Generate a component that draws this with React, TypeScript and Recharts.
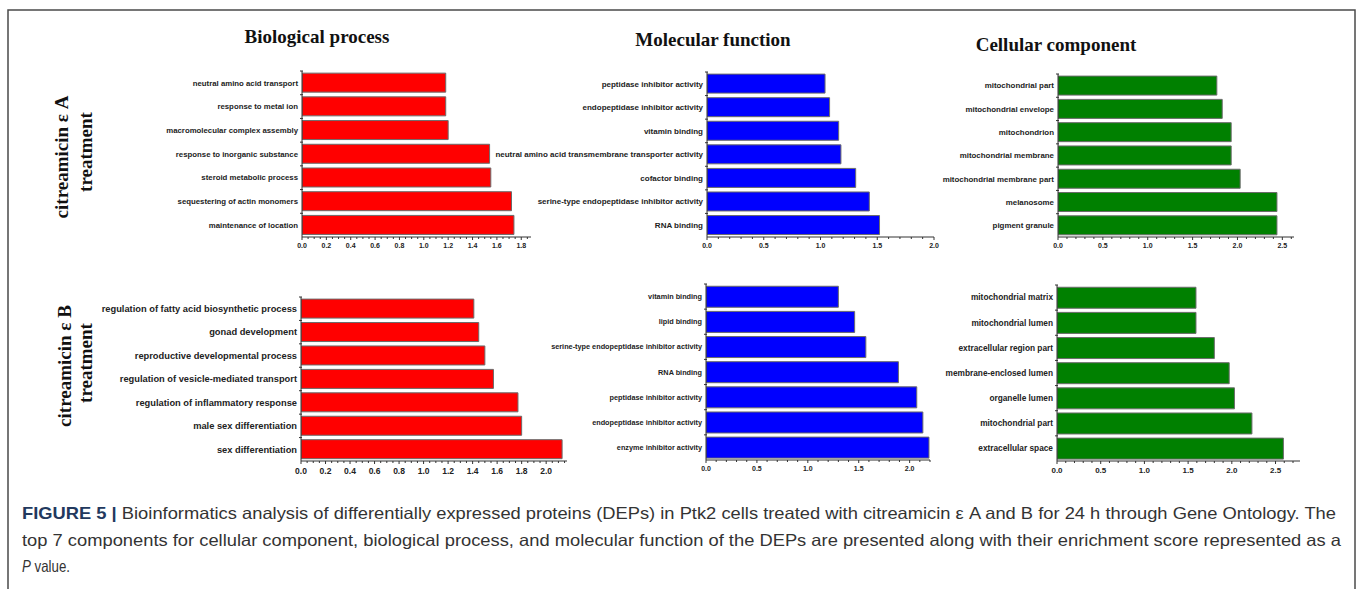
import { BarChart, Bar, XAxis, YAxis } from 'recharts'

if (typeof document !== 'undefined') document.body.style.margin = '0'

const SANS = '"Liberation Sans", Arial, sans-serif'
const NARROW = '"Liberation Sans Narrow", "Liberation Sans", Arial, sans-serif'
const SERIF = '"Liberation Serif", "Times New Roman", serif'

// citreamicin ε A
const bpACategories = [
  'neutral amino acid transport',
  'response to metal ion',
  'macromolecular complex assembly',
  'response to inorganic substance',
  'steroid metabolic process',
  'sequestering of actin monomers',
  'maintenance of location',
]
const bpAValues = [1.18, 1.18, 1.2, 1.54, 1.55, 1.72, 1.74]

const mfACategories = [
  'peptidase inhibitor activity',
  'endopeptidase inhibitor activity',
  'vitamin binding',
  'neutral amino acid transmembrane transporter activity',
  'cofactor binding',
  'serine-type endopeptidase inhibitor activity',
  'RNA binding',
]
const mfAValues = [1.04, 1.08, 1.16, 1.18, 1.31, 1.43, 1.52]

const ccACategories = [
  'mitochondrial part',
  'mitochondrial envelope',
  'mitochondrion',
  'mitochondrial membrane',
  'mitochondrial membrane part',
  'melanosome',
  'pigment granule',
]
const ccAValues = [1.77, 1.83, 1.93, 1.93, 2.03, 2.44, 2.44]

// citreamicin ε B
const bpBCategories = [
  'regulation of fatty acid biosynthetic process',
  'gonad development',
  'reproductive developmental process',
  'regulation of vesicle-mediated transport',
  'regulation of inflammatory response',
  'male sex differentiation',
  'sex differentiation',
]
const bpBValues = [1.41, 1.45, 1.5, 1.57, 1.77, 1.8, 2.13]

const mfBCategories = [
  'vitamin binding',
  'lipid binding',
  'serine-type endopeptidase inhibitor activity',
  'RNA binding',
  'peptidase inhibitor activity',
  'endopeptidase inhibitor activity',
  'enzyme inhibitor activity',
]
const mfBValues = [1.3, 1.46, 1.57, 1.89, 2.07, 2.13, 2.19]

const ccBCategories = [
  'mitochondrial matrix',
  'mitochondrial lumen',
  'extracellular region part',
  'membrane-enclosed lumen',
  'organelle lumen',
  'mitochondrial part',
  'extracellular space',
]
const ccBValues = [1.59, 1.59, 1.8, 1.97, 2.03, 2.23, 2.59]

// tick labels
const ticksTo18 = [0, 0.2, 0.4, 0.6, 0.8, 1.0, 1.2, 1.4, 1.6, 1.8]
const ticksTo20 = [0, 0.2, 0.4, 0.6, 0.8, 1.0, 1.2, 1.4, 1.6, 1.8, 2.0]
const halfTicksTo20 = [0, 0.5, 1.0, 1.5, 2.0]
const halfTicksTo25 = [0, 0.5, 1.0, 1.5, 2.0, 2.5]

interface PanelProps {
  categories: string[]
  values: number[]
  color: string
  axisX: number
  plotTop: number
  plotWidth: number
  plotHeight: number
  labelWidth: number
  max: number
  majors: number[]
  minorStep: number
  labelSize: number
  tickFont: number
}

function XTick({ x, y, payload, major, fontSize }: any) {
  return (
    <g>
      <line x1={x} x2={x} y1={y} y2={y + (major ? 3 : 2)} stroke="#333" strokeWidth={1} />
      {major && (
        <text
          x={x}
          y={y + fontSize + 4}
          textAnchor="middle"
          fontSize={fontSize}
          fontWeight="bold"
          fill="#222"
          fontFamily={SANS}
        >
          {Number(payload.value).toFixed(1)}
        </text>
      )}
    </g>
  )
}

function YTick({ x, y, payload, fontSize }: any) {
  const axisX = x + 4
  const half = payload && typeof payload.offset === 'number' ? payload.offset : 0
  return (
    <g>
      <line x1={axisX - 2} x2={axisX + 1} y1={y - half} y2={y - half} stroke="#333" strokeWidth={1} />
      <text
        x={x}
        y={y}
        dy="0.35em"
        textAnchor="end"
        fontSize={fontSize}
        fontWeight="bold"
        fill="#222"
        fontFamily={SANS}
      >
        {payload.value}
      </text>
    </g>
  )
}

function GoBarPanel(p: PanelProps) {
  const data = p.categories.map((name, i) => ({ name, value: p.values[i] }))
  // minor ticks between the labelled ones
  const allTicks: number[] = []
  for (let i = 0; i * p.minorStep <= p.max + 1e-9; i++) allTicks.push(+(i * p.minorStep).toFixed(3))
  const isMajor = (v: number) => p.majors.some((m) => Math.abs(m - v) < 1e-6)
  const pad = 4
  const padRight = 12

  return (
    <div style={{ position: 'absolute', left: p.axisX - p.labelWidth, top: p.plotTop - pad }}>
      <BarChart
        layout="vertical"
        width={p.labelWidth + p.plotWidth + padRight}
        height={p.plotHeight + pad + 24}
        data={data}
        margin={{ top: pad, right: padRight, bottom: 0, left: 0 }}
        barCategoryGap="9%"
      >
        <XAxis
          type="number"
          domain={[0, p.max]}
          ticks={allTicks}
          interval={0}
          height={24}
          axisLine={{ stroke: '#333', strokeWidth: 1 }}
          tickLine={false}
          tickSize={0}
          tickMargin={0}
          allowDataOverflow
          tick={(t: any) => <XTick {...t} major={isMajor(t.payload.value)} fontSize={p.tickFont} />}
        />
        <YAxis
          type="category"
          dataKey="name"
          width={p.labelWidth}
          interval={0}
          axisLine={{ stroke: '#333', strokeWidth: 1 }}
          tickLine={false}
          tickSize={0}
          tickMargin={4}
          tick={(t: any) => <YTick {...t} fontSize={p.labelSize} />}
        />
        <Bar dataKey="value" fill={p.color} stroke="#6b6b6b" strokeWidth={1} isAnimationActive={false} />
      </BarChart>
    </div>
  )
}

export default function App() {
  return (
    <div style={{ position: 'relative', width: 1358, height: 589, background: '#fff', overflow: 'hidden' }}>
      <GoBarPanel categories={bpACategories} values={bpAValues} color="#ff0000"
        axisX={302} plotTop={71} plotWidth={229} plotHeight={166} labelWidth={210}
        max={1.88} majors={ticksTo18} minorStep={0.05} labelSize={7.8} tickFont={7} />
      <GoBarPanel categories={mfACategories} values={mfAValues} color="#0000ff"
        axisX={707} plotTop={72} plotWidth={227} plotHeight={165} labelWidth={220}
        max={2.0} majors={halfTicksTo20} minorStep={0.1} labelSize={8} tickFont={7} />
      <GoBarPanel categories={ccACategories} values={ccAValues} color="#008000"
        axisX={1058} plotTop={74} plotWidth={236} plotHeight={163} labelWidth={130}
        max={2.63} majors={halfTicksTo25} minorStep={0.1} labelSize={7.9} tickFont={7} />
      <GoBarPanel categories={bpBCategories} values={bpBValues} color="#ff0000"
        axisX={301} plotTop={297} plotWidth={266} plotHeight={164} labelWidth={215}
        max={2.17} majors={ticksTo20} minorStep={0.05} labelSize={9.3} tickFont={8.5} />
      <GoBarPanel categories={mfBCategories} values={mfBValues} color="#0000ff"
        axisX={706} plotTop={284} plotWidth={224} plotHeight={176} labelWidth={170}
        max={2.2} majors={halfTicksTo20} minorStep={0.1} labelSize={7.3} tickFont={7} />
      <GoBarPanel categories={ccBCategories} values={ccBValues} color="#008000"
        axisX={1057} plotTop={285} plotWidth={243} plotHeight={176} labelWidth={130}
        max={2.78} majors={halfTicksTo25} minorStep={0.1} labelSize={8.3} tickFont={8} />

      <svg width={1358} height={589} style={{ position: 'absolute', left: 0, top: 0, pointerEvents: 'none' }}>
        <rect x={8} y={10} width={1347} height={620} fill="none" stroke="#4a4a4a" strokeWidth={1.5} />

        <g fontFamily={SERIF} fontWeight="bold" fontSize={19} fill="#111" textAnchor="middle">
          <text x={317} y={43}>Biological process</text>
          <text x={713} y={46}>Molecular function</text>
          <text x={1056} y={51}>Cellular component</text>

          <text transform="translate(68,157) rotate(-90)">citreamicin ε A</text>
          <text transform="translate(92,152) rotate(-90)">treatment</text>
          <text transform="translate(71,366) rotate(-90)">citreamicin ε B</text>
          <text transform="translate(92,363) rotate(-90)">treatment</text>
        </g>

        <g fontFamily={NARROW} fontSize={16.5} fill="#333">
          <text x={22} y={519} textLength={1314} lengthAdjust="spacingAndGlyphs">
            <tspan fontWeight="bold" fill="#22395e">FIGURE 5 | </tspan>
            <tspan>Bioinformatics analysis of differentially expressed proteins (DEPs) in Ptk2 cells treated with citreamicin ε A and B for 24 h through Gene Ontology. The</tspan>
          </text>
          <text x={22} y={546} textLength={1319} lengthAdjust="spacingAndGlyphs">
            top 7 components for cellular component, biological process, and molecular function of the DEPs are presented along with their enrichment score represented as a
          </text>
          <text x={22} y={572} textLength={48} lengthAdjust="spacingAndGlyphs">
            <tspan fontStyle="italic">P</tspan>
            <tspan> value.</tspan>
          </text>
        </g>
      </svg>
    </div>
  )
}
